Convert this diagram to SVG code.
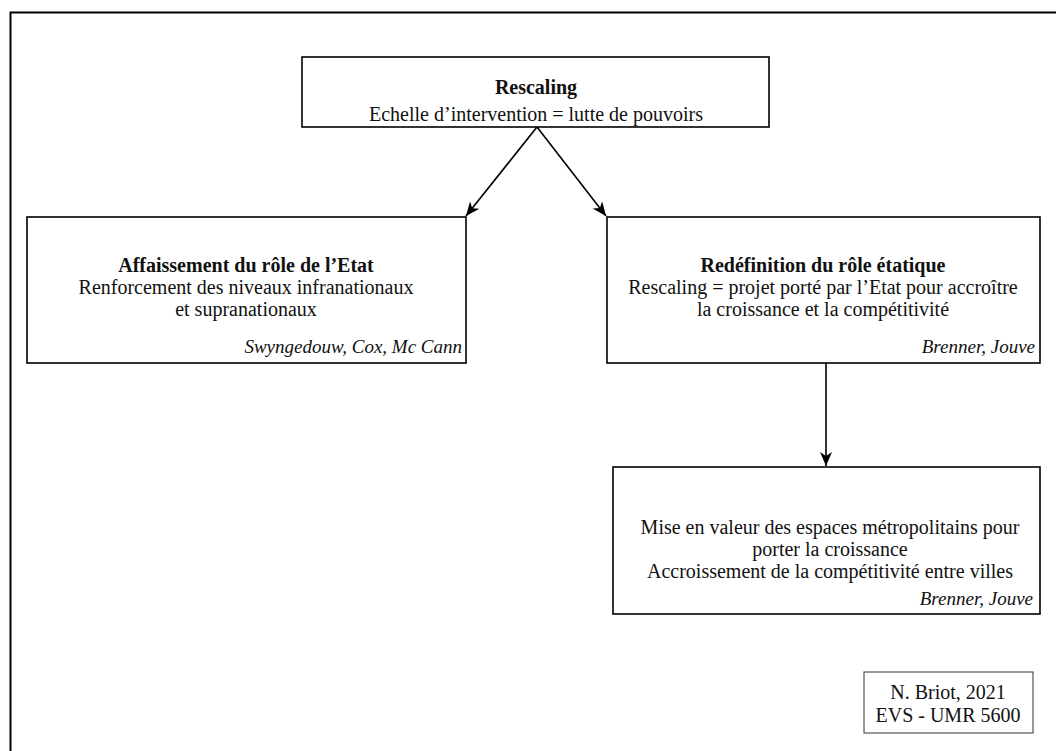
<svg xmlns="http://www.w3.org/2000/svg" width="1056" height="751" viewBox="0 0 1056 751">
<style>
.box{fill:#fff;stroke:#000;stroke-width:1.6}
.t{font-family:"Liberation Serif","Times New Roman",serif;font-size:20px;fill:#111;text-anchor:middle}
.b{font-weight:bold}
.a{font-style:italic;text-anchor:end;font-size:19px}
.c{stroke:#000;stroke-width:1.6;fill:none}
</style>
<defs>
<marker id="ah" viewBox="0 0 14 12" refX="14" refY="6" markerWidth="14" markerHeight="12" markerUnits="userSpaceOnUse" orient="auto">
<path d="M0,0 L14,6 L0,12 L4,6 Z" fill="#000"/>
</marker>
</defs>
<rect x="10.5" y="12.5" width="1070" height="760" fill="#fff" stroke="#000" stroke-width="2"/>
<g id="connectors">
<line class="c" x1="537" y1="127" x2="466" y2="216" marker-end="url(#ah)"/>
<line class="c" x1="537" y1="127" x2="606" y2="216" marker-end="url(#ah)"/>
<line class="c" x1="826" y1="363" x2="826" y2="466" marker-end="url(#ah)"/>
</g>
<g id="top">
<rect class="box" x="302" y="57" width="467" height="70"/>
<text class="t b" x="536" y="94">Rescaling</text>
<text class="t" x="536" y="121">Echelle d’intervention = lutte de pouvoirs</text>
</g>
<g id="left">
<rect class="box" x="27" y="217" width="439" height="146"/>
<text class="t b" x="246" y="272">Affaissement du rôle de l’Etat</text>
<text class="t" x="246" y="294">Renforcement des niveaux infranationaux</text>
<text class="t" x="246" y="316">et supranationaux</text>
<text class="t a" x="462" y="353">Swyngedouw, Cox, Mc Cann</text>
</g>
<g id="right">
<rect class="box" x="607" y="217" width="433" height="146"/>
<text class="t b" x="823" y="272">Redéfinition du rôle étatique</text>
<text class="t" x="823" y="294">Rescaling = projet porté par l’Etat pour accroître</text>
<text class="t" x="823" y="316">la croissance et la compétitivité</text>
<text class="t a" x="1035" y="353">Brenner, Jouve</text>
</g>
<g id="bottom">
<rect class="box" x="613" y="467" width="427" height="147"/>
<text class="t" x="830" y="534">Mise en valeur des espaces métropolitains pour</text>
<text class="t" x="830" y="556">porter la croissance</text>
<text class="t" x="830" y="578"> Accroissement de la compétitivité entre villes</text>
<text class="t a" x="1033" y="605">Brenner, Jouve</text>
</g>
<g id="credit">
<rect x="864" y="672" width="169" height="61" fill="#fff" stroke="#333" stroke-width="1"/>
<text class="t" x="948" y="699">N. Briot, 2021</text>
<text class="t" x="948" y="722">EVS - UMR 5600</text>
</g>
</svg>
